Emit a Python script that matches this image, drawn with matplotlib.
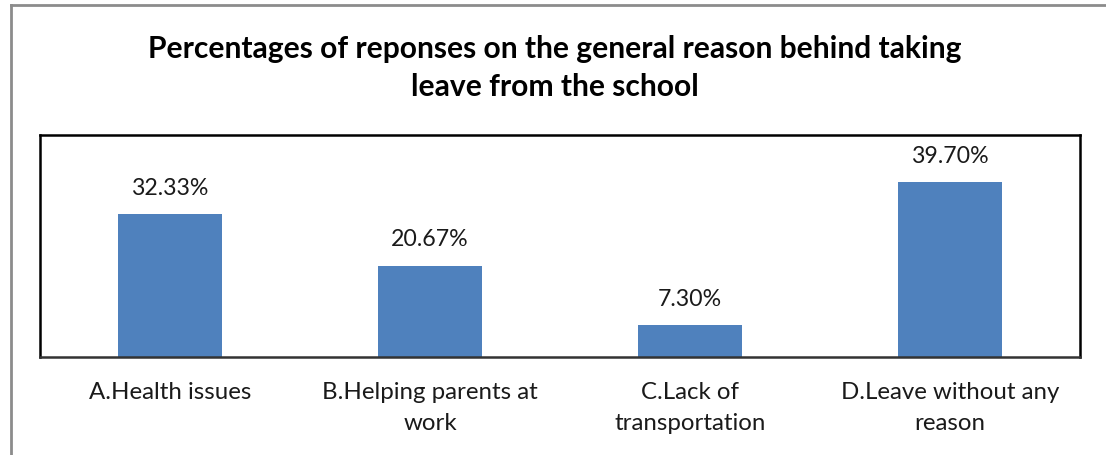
import matplotlib
matplotlib.use("Agg")
import matplotlib.pyplot as plt
from matplotlib.lines import Line2D

categories = ["A.Health issues", "B.Helping parents at\nwork",
              "C.Lack of\ntransportation", "D.Leave without any\nreason"]
percentages = [32.33, 20.67, 7.30, 39.70]
value_labels = ["32.33%", "20.67%", "7.30%", "39.70%"]
title = "Percentages of reponses on the general reason behind taking\nleave from the school"

plt.rcParams["font.family"] = ["Lato", "DejaVu Sans"]

fig = plt.figure(figsize=(11.06, 4.55), dpi=100)
ax = fig.add_axes([40 / 1106, 98 / 455, 1040 / 1106, 222 / 455])

x = range(len(categories))
bars = ax.bar(x, percentages, width=0.4, color="#4F81BD", zorder=2)
for rect, lab in zip(bars, value_labels):
    ax.annotate(lab, (rect.get_x() + rect.get_width() / 2, rect.get_height()),
                xytext=(0, 11), textcoords="offset points",
                ha="center", va="bottom", fontsize=16.7, color="#1a1a1a")

ax.set_xlim(-0.5, len(categories) - 0.5)
ax.set_ylim(0, 50.3)
ax.set_yticks([])
ax.set_xticks(list(x))
ax.set_xticklabels(categories, fontsize=17.3, color="#1a1a1a", linespacing=1.6)
ax.tick_params(axis="x", length=0, pad=18)
for side in ("top", "left", "right"):
    ax.spines[side].set_linewidth(1.8)
    ax.spines[side].set_color("black")
ax.spines["bottom"].set_linewidth(1.8)
ax.spines["bottom"].set_color("#333333")

fig.text(555 / 1106, 1 - 68 / 455, title, ha="center", va="center",
         fontsize=21.6, fontweight="bold", linespacing=1.4)

# grey page frame along top and left edges
fig.add_artist(Line2D([11 / 1106, 1], [1 - 5 / 455, 1 - 5 / 455],
                      transform=fig.transFigure, color="#8c8c8c", lw=2))
fig.add_artist(Line2D([11 / 1106, 11 / 1106], [0, 1 - 5 / 455],
                      transform=fig.transFigure, color="#8c8c8c", lw=2))

fig.savefig("out.png", dpi=100)
